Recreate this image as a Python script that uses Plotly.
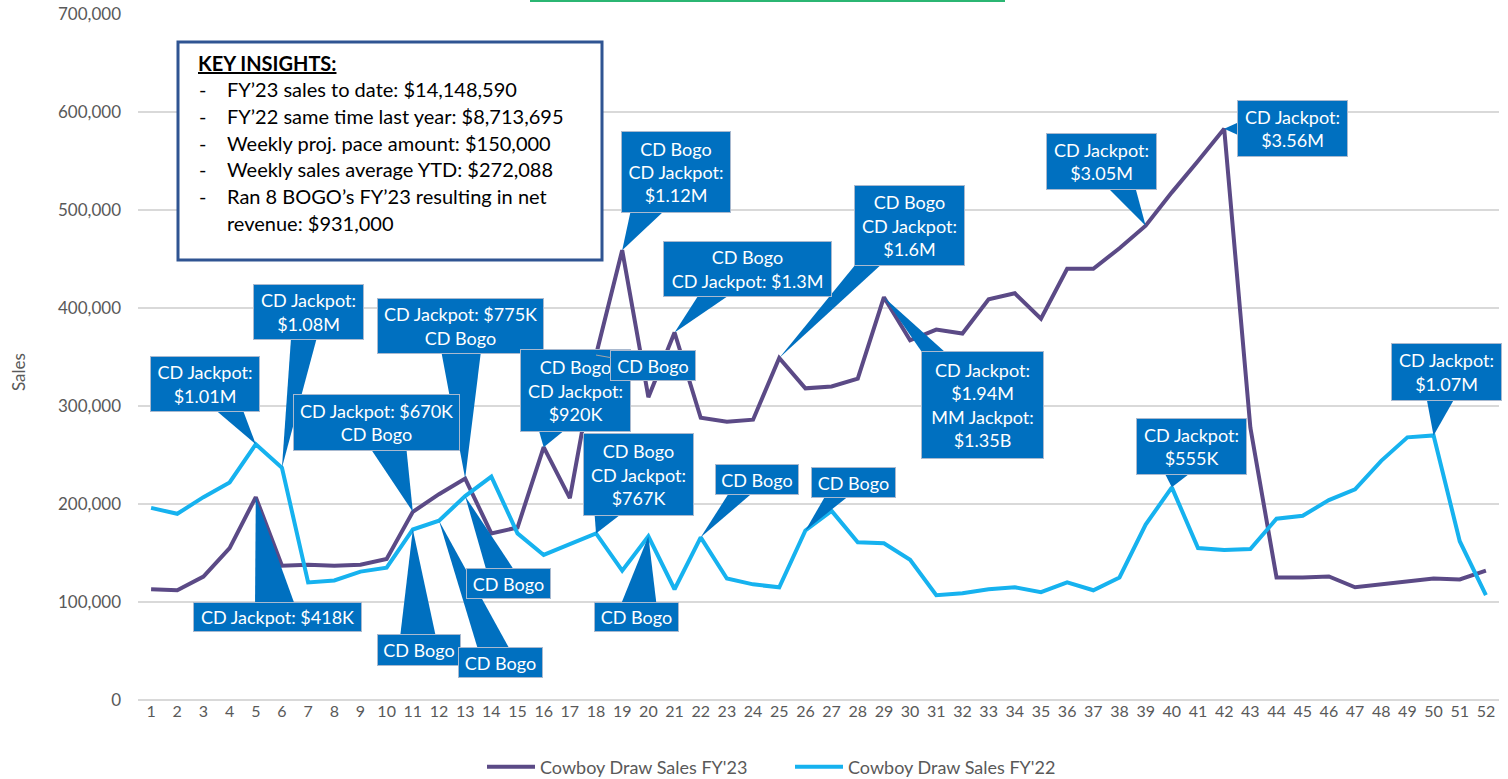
import plotly.graph_objects as go

# ---- data -------------------------------------------------------------
weeks = list(range(1, 53))

sales_fy23 = [
    113000, 112000, 126000, 155000, 207000, 137000, 138000, 137000, 138000, 144000,
    192000, 210000, 226000, 170000, 176000, 258000, 206000, 352000, 459000, 309000,
    375000, 288000, 284000, 286000, 349000, 318000, 320000, 328000, 411000, 367000,
    378000, 374000, 409000, 415000, 389000, 440000, 440000, 461000, 484000, 518000,
    550000, 583000, 278000, 125000, 125000, 126000, 115000, 118000, 121000, 124000,
    123000, 132000,
]

sales_fy22 = [
    196000, 190000, 207000, 222000, 261000, 237000, 120000, 122000, 131000, 135000,
    174000, 183000, 208000, 228000, 170000, 148000, 159000, 170000, 132000, 167000,
    113000, 166000, 124000, 118000, 115000, 173000, 193000, 161000, 160000, 143000,
    107000, 109000, 113000, 115000, 110000, 120000, 112000, 125000, 179000, 217000,
    155000, 153000, 154000, 185000, 188000, 204000, 215000, 244000, 268000, 270000,
    162000, 107000,
]

series_names = ["Cowboy Draw Sales FY'23", "Cowboy Draw Sales FY'22"]

# callouts: which series, which week, label text
callout_series = [22, 22, 23, 23, 23, 22, 22, 22, 23, 23, 22,
                  22, 23, 23, 23, 23, 22, 22, 23, 23, 22, 22]
callout_weeks = [5, 6, 11, 13, 5, 11, 12, 13, 16, 18, 18,
                 20, 19, 21, 25, 29, 22, 26, 39, 42, 40, 50]
callout_texts = [
    "CD Jackpot:<br>$1.01M",
    "CD Jackpot:<br>$1.08M",
    "CD Jackpot: $670K<br>CD Bogo",
    "CD Jackpot: $775K<br>CD Bogo",
    "CD Jackpot: $418K",
    "CD Bogo",
    "CD Bogo",
    "CD Bogo",
    "CD Bogo<br>CD Jackpot:<br>$920K",
    "CD Bogo",
    "CD Bogo<br>CD Jackpot:<br>$767K",
    "CD Bogo",
    "CD Bogo<br>CD Jackpot:<br>$1.12M",
    "CD Bogo<br>CD Jackpot: $1.3M",
    "CD Bogo<br>CD Jackpot:<br>$1.6M",
    "CD Jackpot:<br>$1.94M<br>MM Jackpot:<br>$1.35B",
    "CD Bogo",
    "CD Bogo",
    "CD Jackpot:<br>$3.05M",
    "CD Jackpot:<br>$3.56M",
    "CD Jackpot:<br>$555K",
    "CD Jackpot:<br>$1.07M",
]

insight_title = "KEY INSIGHTS:"
insight_lines = [
    "FY\u201923 sales to date: $14,148,590",
    "FY\u201922 same time last year: $8,713,695",
    "Weekly proj. pace amount: $150,000",
    "Weekly sales average YTD: $272,088",
    "Ran 8 BOGO\u2019s FY\u201923 resulting in net",
    "revenue: $931,000",
]
insight_bullets = [True, True, True, True, True, False]

# ---- layout / style ---------------------------------------------------
W, H = 1508, 779
M_L, M_R, M_T, M_B = 138, 9, 14, 79
PLOT_W = W - M_L - M_R
PLOT_H = H - M_T - M_B
Y_MAX = 700000
PX_X = PLOT_W / 52.0
PX_Y = PLOT_H / Y_MAX

FONT = "Lato"
GREY = "#595959"
C23 = "#5B4A86"
C22 = "#16B2EF"
BOX = "#0070C0"

# callout box placement in pixels: centre offset from the point, width, height, wedge half width
callout_boxes = [
    (-51, -60, 110, 56, 14), (27, -156, 111, 56, 13), (-36, -89, 167, 57, 18),
    (-5, -153, 167, 56, 20), (22, 120, 169, 30, 20), (6, 121, 84, 32, 18),
    (62, 142, 85, 31, 16), (43, 87, 85, 31, 14), (32, -57, 111, 83, 14),
    (57, 10, 86, 31, 0), (42, -59, 111, 83, 14), (-12, 81, 85, 30, 18),
    (54, -78, 110, 82, 17), (73, -64, 169, 56, 16), (130, -132, 111, 81, 13),
    (99, 108, 123, 108, 14), (56, -58, 84, 31, 12), (48, -48, 85, 31, 12),
    (-44, -64, 111, 57, 14), (68, 0, 111, 57, 7), (20, -41, 111, 57, 14),
    (13, -63, 111, 58, 14),
]


def to_paper(xp, yp):
    # page pixel -> paper fraction
    return (xp - M_L) / PLOT_W, (H - M_B - yp) / PLOT_H


def wedge_path(week, value, dx, dy, w, h, hw):
    # triangle from the point to the edge of its callout box (pixel maths, data coords out)
    hx, hy = w / 2.0, h / 2.0
    tx = hx / abs(dx) if dx else 1e9
    ty = hy / abs(dy) if dy else 1e9
    t = min(tx, ty)
    ex, ey = dx - t * dx, dy - t * dy
    if ty <= tx:
        ey += 3 if dy > 0 else -3
        lo, hi = dx - hx + 2, dx + hx - 2
        a, b = max(ex - hw, lo), min(ex + hw, hi)
        pts = [(a, ey), (b, ey)]
    else:
        ex += 3 if dx > 0 else -3
        lo, hi = dy - hy + 2, dy + hy - 2
        a, b = max(ey - hw, lo), min(ey + hw, hi)
        pts = [(ex, a), (ex, b)]
    pts = [(week + px / PX_X, value - py / PX_Y) for px, py in pts]
    return "M {},{} L {},{} L {},{} Z".format(week, value, pts[0][0], pts[0][1], pts[1][0], pts[1][1])


fig = go.Figure()
fig.add_trace(go.Scatter(x=weeks, y=sales_fy23, mode="lines", name=series_names[0],
                         line=dict(color=C23, width=4)))
fig.add_trace(go.Scatter(x=weeks, y=sales_fy22, mode="lines", name=series_names[1],
                         line=dict(color=C22, width=4)))

shapes = []
annotations = []

# --- callouts ---
for s, wk, txt, (dx, dy, bw, bh, hw) in zip(callout_series, callout_weeks, callout_texts, callout_boxes):
    val = (sales_fy23 if s == 23 else sales_fy22)[wk - 1]
    if hw > 0:
        shapes.append(dict(type="path", path=wedge_path(wk, val, dx, dy, bw, bh, hw),
                           xref="x", yref="y", fillcolor=BOX, line=dict(width=0),
                           layer="above"))
    annotations.append(dict(
        x=wk, y=val, xref="x", yref="y", text=txt, showarrow=True,
        ax=dx, ay=dy, axref="pixel", ayref="pixel",
        arrowhead=0, arrowwidth=1, standoff=0,
        arrowcolor="#A6A6A6" if hw == 0 else "rgba(0,0,0,0)",
        bgcolor=BOX, bordercolor="#A9B9CF", borderwidth=1, borderpad=0,
        width=bw - 2, height=bh - 2, align="center", valign="middle",
        font=dict(family=FONT, size=18, color="white"),
    ))

# --- key insights box ---
x0, y0 = to_paper(178, 42)
x1, y1 = to_paper(602, 260)
shapes.append(dict(type="rect", xref="paper", yref="paper", x0=x0, y0=y1, x1=x1, y1=y0,
                   fillcolor="white", line=dict(color="#2F5492", width=3), layer="above"))

tx, ty = to_paper(196, 63)
annotations.append(dict(x=tx, y=ty, xref="paper", yref="paper", showarrow=False,
                        xanchor="left", yanchor="middle",
                        text="<b><u>" + insight_title + "</u></b>",
                        font=dict(family=FONT, size=20, color="black")))
for i, (line, bullet) in enumerate(zip(insight_lines, insight_bullets)):
    yp = 89 + i * 26.8
    if bullet:
        bx, by = to_paper(197, yp)
        annotations.append(dict(x=bx, y=by, xref="paper", yref="paper", showarrow=False,
                                xanchor="left", yanchor="middle", text="-",
                                font=dict(family=FONT, size=20, color="black")))
    lx, ly = to_paper(225, yp)
    annotations.append(dict(x=lx, y=ly, xref="paper", yref="paper", showarrow=False,
                            xanchor="left", yanchor="middle", text=line,
                            font=dict(family=FONT, size=20, color="black")))

# green rule peeking in at the very top
gx0, gy = to_paper(530, 1)
gx1, _ = to_paper(1005, 1)
shapes.append(dict(type="line", xref="paper", yref="paper", x0=gx0, x1=gx1, y0=gy, y1=gy,
                   line=dict(color="#2BB673", width=2)))

# y-axis title
sx, sy = to_paper(18, 372)
annotations.append(dict(x=sx, y=sy, xref="paper", yref="paper", showarrow=False,
                        xanchor="center", yanchor="middle",
                        text="Sales", textangle=-90,
                        font=dict(family=FONT, size=17, color=GREY)))

lgx, lgy = to_paper(482, 767)

fig.update_layout(
    width=W, height=H,
    margin=dict(l=M_L, r=M_R, t=M_T, b=M_B, autoexpand=False),
    paper_bgcolor="white", plot_bgcolor="white",
    font=dict(family=FONT, color=GREY),
    showlegend=True,
    legend=dict(orientation="h", x=lgx, y=lgy, xanchor="left", yanchor="middle",
                font=dict(family=FONT, size=18, color=GREY), itemwidth=48,
                entrywidth=245, entrywidthmode="pixels",
                bgcolor="rgba(0,0,0,0)"),
    xaxis=dict(range=[0.5, 52.5], tickmode="array", tickvals=weeks,
               ticktext=[str(w) for w in weeks], showgrid=False, zeroline=False,
               showline=False, ticks="", tickfont=dict(family=FONT, size=16, color=GREY)),
    yaxis=dict(range=[0, Y_MAX], tickmode="linear", tick0=0, dtick=100000,
               tickformat=",d", showgrid=True, gridcolor="#D9D9D9", gridwidth=2,
               zeroline=True, zerolinecolor="#D9D9D9", zerolinewidth=2,
               showline=False, ticks="", ticklabelstandoff=16,
               ticklabeloverflow="allow",
               tickfont=dict(family=FONT, size=17, color=GREY)),
    shapes=shapes,
    annotations=annotations,
)

# drop the default body margin so the figure fills the window edge to edge
fig.write_html("out.html", config={"displayModeBar": False},
               post_script="document.body.style.margin = '0';")
